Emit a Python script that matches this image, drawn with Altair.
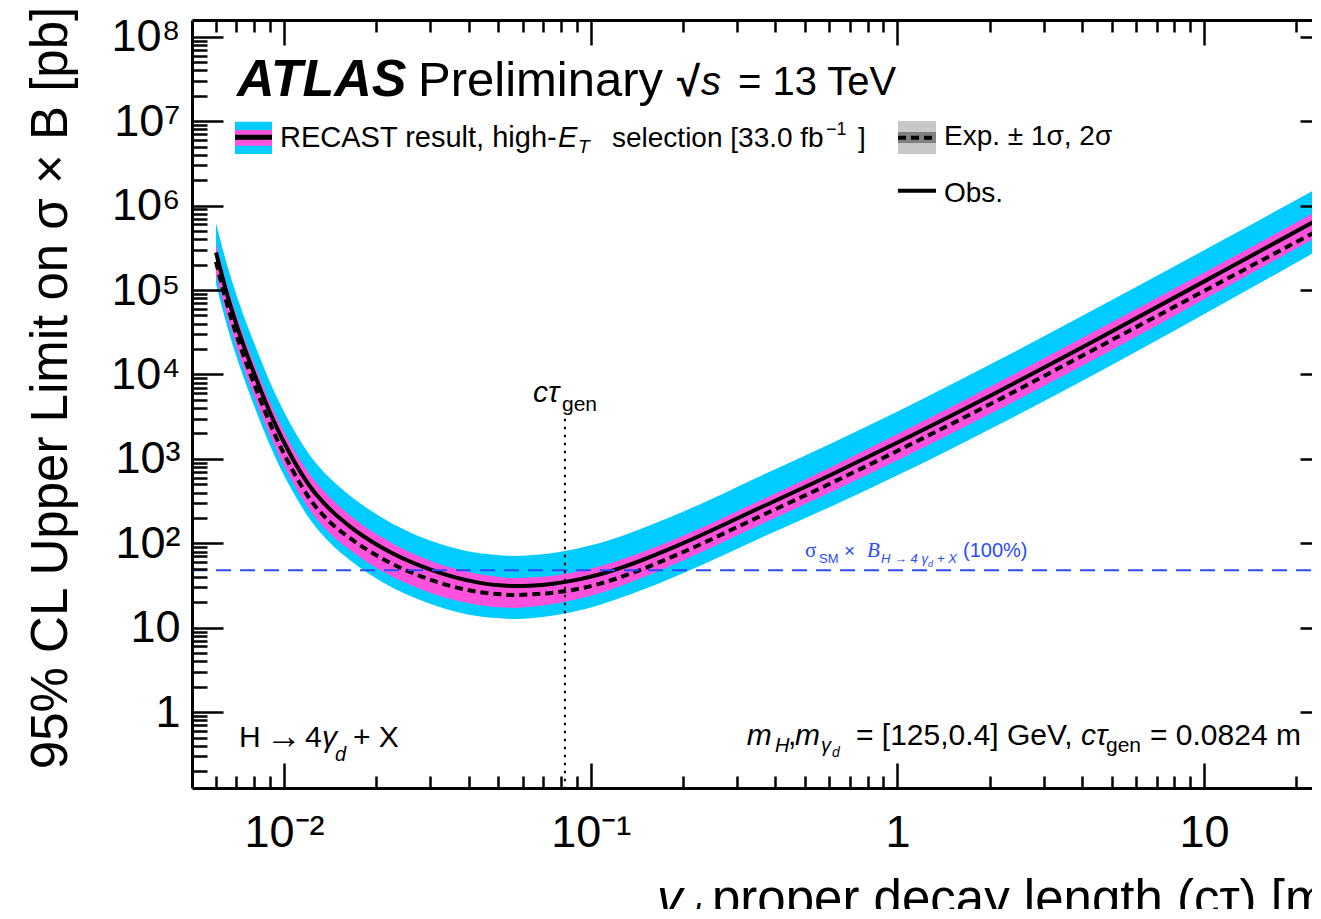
import altair as alt
import pandas as pd

# ---------------- data ----------------
ctau = [0.00600, 0.00647, 0.00719, 0.00804, 0.00921, 0.01062, 0.01216, 0.01413,
        0.01642, 0.02056, 0.02992, 0.04355, 0.05177, 0.0566, 0.0634, 0.0765,
        0.0923, 0.1072, 0.1343, 0.1955, 0.3565, 0.603, 1.02, 2.16, 4.58, 11.27, 23.3]
obs = [2.79e5, 9.89e4, 2.90e4, 9.73e3, 2.93e3, 1.04e3, 471, 252,
       158, 91.8, 49.0, 34.0, 31.6, 31.2, 31.5, 33.5,
       37.7, 43.0, 56.1, 96.8, 264, 641, 1.62e3, 6.43e3, 2.72e4, 1.60e5, 6.73e5]
exp_med = [2.16e5, 7.59e4, 2.20e4, 7.30e3, 2.17e3, 753, 333, 178,
           115, 68.1, 37.2, 26.4, 24.8, 24.4, 24.8, 26.2,
           29.2, 33.3, 43.6, 76.0, 209, 509, 1.29e3, 5.11e3, 2.16e4, 1.23e5, 4.99e5]
band1_hi = [3.59e5, 1.27e5, 3.78e4, 1.28e4, 3.91e3, 1.40e3, 650, 348,
            214, 121, 62.4, 42.9, 39.4, 38.8, 39.3, 41.7,
            46.9, 53.5, 69.8, 119, 321, 789, 2.04e3, 8.28e3, 3.54e4, 2.04e5, 8.61e5]
band1_lo = [1.57e5, 5.50e4, 1.59e4, 5.28e3, 1.57e3, 552, 247, 131,
            83.2, 48.2, 26.0, 18.5, 17.4, 17.2, 17.7, 19.3,
            22.2, 25.8, 34.4, 60.5, 166, 400, 995, 3.92e3, 1.64e4, 9.86e4, 4.25e5]
band2_hi = [6.24e5, 2.21e5, 6.56e4, 2.23e4, 6.71e3, 2.41e3, 1.10e3, 590,
            367, 208, 108, 76.2, 71.8, 71.0, 72.3, 77.6,
            88.3, 101, 133, 229, 624, 1.50e3, 3.76e3, 1.51e4, 6.43e4, 3.75e5, 1.585e6]
band2_lo = [1.19e5, 4.17e4, 1.21e4, 4.01e3, 1.19e3, 424, 192, 101,
            63.1, 36.1, 19.3, 13.6, 12.9, 12.7, 13.0, 14.1,
            16.1, 18.7, 24.7, 42.7, 115, 270, 661, 2.59e3, 1.09e4, 6.59e4, 2.89e5]

sm_xsec = 48.1          # sigma_SM x B (100%)
ctau_gen = 0.0824
ctau_gen_top = 3000.0

x_major = [0.01, 0.1, 1, 10]
x_minor = [m * 10.0 ** k for k in range(-3, 2) for m in range(2, 10)]
y_major = [1, 10, 1e2, 1e3, 1e4, 1e5, 1e6, 1e7, 1e8]
y_minor = [m * 10.0 ** k for k in range(-1, 8) for m in range(2, 10)]

XDOM = [0.005012, 22.48]
YDOM = [0.1265, 1.58e8]

df = pd.DataFrame({"ctau": ctau, "obs": obs, "exp": exp_med,
                   "b1lo": band1_lo, "b1hi": band1_hi,
                   "b2lo": band2_lo, "b2hi": band2_hi})

F = "Liberation Sans"
FS = "Liberation Serif"
W, H = 1120, 768
CYAN = "#00CCFF"
MAG = "#FF52DC"
BLUE = "#2A4BFF"

x_major = [v for v in x_major if XDOM[0] <= v <= XDOM[1]]
x_minor = [v for v in x_minor if XDOM[0] <= v <= XDOM[1]]
y_minor = [v for v in y_minor if YDOM[0] <= v <= YDOM[1]]

xs = alt.Scale(type="log", domain=XDOM, nice=False)
ys = alt.Scale(type="log", domain=YDOM, nice=False)


def tick_axis(orient, values, size, offset):
    return alt.Axis(orient=orient, values=values, tickSize=size, offset=offset,
                    labels=False, domain=False, grid=False, title=None,
                    ticks=True, tickColor="black", tickWidth=2.5, zindex=2)


y_label_axis = alt.Axis(
    orient="left", values=y_major, ticks=False, domain=True, domainColor="black",
    domainWidth=3, labelFont=F, labelFontSize=45, labelColor="black",
    labelPadding=12, labelBaseline="middle", labelOverlap=False, labelFlush=False,
    labelExpr=("datum.value < 5 ? '1' : datum.value < 50 ? '10' : datum.value < 500 ? '10²' : "
               "datum.value < 5e3 ? '10³' : datum.value < 5e4 ? '10⁴' : datum.value < 5e5 ? '10⁵' : "
               "datum.value < 5e6 ? '10⁶' : datum.value < 5e7 ? '10⁷' : '10⁸'"),
    title=None, grid=False, zindex=2)

x_label_axis = alt.Axis(
    orient="bottom", values=x_major, ticks=False, domain=True, domainColor="black",
    domainWidth=3, labelFont=F, labelFontSize=45, labelColor="black",
    labelPadding=22, labelOverlap=False, labelFlush=False,
    labelExpr=("datum.value < 0.05 ? '10⁻²' : datum.value < 0.5 ? '10⁻¹' : "
               "datum.value < 5 ? '1' : '10'"),
    title=None, grid=False, zindex=2)

x_top_domain = alt.Axis(orient="top", values=x_major, ticks=False, labels=False,
                        domain=True, domainColor="black", domainWidth=3,
                        title=None, grid=False, zindex=2)

base = alt.Chart(df)

cyan = base.mark_area(color=CYAN, interpolate="monotone", clip=True).encode(
    x=alt.X("ctau:Q", scale=xs, axis=x_label_axis),
    y=alt.Y("b2lo:Q", scale=ys, axis=y_label_axis),
    y2="b2hi:Q")

mag = base.mark_area(color=MAG, interpolate="monotone", clip=True).encode(
    x=alt.X("ctau:Q", scale=xs, axis=tick_axis("bottom", x_major, 25, -25)),
    y=alt.Y("b1lo:Q", scale=ys, axis=tick_axis("left", y_major, 31, -31)),
    y2="b1hi:Q")

exp_line = base.mark_line(color="black", strokeWidth=4, strokeDash=[8, 5],
                          interpolate="monotone", clip=True).encode(
    x=alt.X("ctau:Q", scale=xs, axis=tick_axis("bottom", x_minor, 12, -12)),
    y=alt.Y("exp:Q", scale=ys, axis=tick_axis("left", y_minor, 15, -15)))

obs_line = base.mark_line(color="black", strokeWidth=4,
                          interpolate="monotone", clip=True).encode(
    x=alt.X("ctau:Q", scale=xs, axis=tick_axis("top", x_major, 25, -25)),
    y=alt.Y("obs:Q", scale=ys, axis=tick_axis("right", y_major, 31, -12)))

one = alt.Data(values=[{"a": 1}])

gen_rule = alt.Chart(one).mark_rule(color="black", strokeWidth=2,
                                    strokeDash=[2.5, 5.5]).encode(
    x=alt.XDatum(ctau_gen, scale=xs, axis=tick_axis("top", x_minor, 12, -12)),
    y=alt.YDatum(ctau_gen_top, scale=ys, axis=tick_axis("right", y_minor, 15, 4)),
    y2=alt.Y2Datum(YDOM[0]))

sm_rule = alt.Chart(one).mark_rule(color=BLUE, strokeWidth=2,
                                   strokeDash=[15, 9]).encode(
    x=alt.XDatum(XDOM[0], scale=xs, axis=x_top_domain),
    x2=alt.X2Datum(XDOM[1]),
    y=alt.YDatum(sm_xsec, scale=ys, axis=None))


def txt(s, x, y, size, color="black", style="normal", weight="normal",
        font=F, align="left", baseline="alphabetic", angle=0):
    return alt.Chart(one).mark_text(
        text=s, font=font, fontSize=size, color=color, fontStyle=style,
        fontWeight=weight, align=align, baseline=baseline, angle=angle
    ).encode(x=alt.value(x), y=alt.value(y))


def rect(x0, x1, y0, y1, color):
    return alt.Chart(one).mark_rect(color=color).encode(
        x=alt.value(x0), x2=alt.value(x1), y=alt.value(y0), y2=alt.value(y1))


def hline(x0, x1, y, width, dash=None):
    kw = dict(color="black", strokeWidth=width)
    if dash:
        kw["strokeDash"] = dash
    return alt.Chart(one).mark_rule(**kw).encode(
        x=alt.value(x0), x2=alt.value(x1), y=alt.value(y))


texts = [
    txt("ATLAS", 45, 76, 52, style="italic", weight="bold"),
    txt("Preliminary", 226, 76, 49),
    txt("√", 485, 76, 42, weight="bold"),
    txt("s", 509, 75, 40, style="italic"),
    txt("= 13 TeV", 546, 75, 40),
    # legend
    rect(43, 80, 101.7, 134, CYAN),
    rect(43, 80, 110, 125.7, MAG),
    hline(43, 80, 117.3, 5),
    txt("RECAST result, high-", 88, 127, 29),
    txt("E", 366, 127, 29, style="italic"),
    txt("T", 386, 133, 19, style="italic"),
    txt("selection [33.0 fb", 420, 127, 28),
    txt("−1", 634, 115, 18),
    txt("]", 666, 127, 28),
    rect(706, 744, 101, 134, "#C8C8C8"),
    rect(706, 744, 112, 123, "#808080"),
    hline(706, 744, 117.7, 4, [8, 5]),
    txt("Exp. ± 1σ, 2σ", 752, 125, 28),
    hline(706, 744, 170.7, 4),
    txt("Obs.", 752, 181.7, 28),
    # c tau gen label
    txt("cτ", 341, 382, 30, style="italic"),
    txt("gen", 370, 391, 21),
    # blue label
    txt("σ", 613, 537, 21, color=BLUE, font=FS),
    txt("SM", 627, 543, 13, color=BLUE),
    txt("×", 652, 537, 19, color=BLUE),
    txt("B", 675, 537, 21, color=BLUE, font=FS, style="italic"),
    txt("H → 4 γ", 689, 543, 13, color=BLUE, style="italic"),
    txt("d", 736, 547, 9, color=BLUE, style="italic"),
    txt("+ X", 745, 543, 13, color=BLUE, style="italic"),
    txt("(100%)", 771, 537, 20, color=BLUE),
    # bottom-left
    txt("H", 47, 726.7, 30),
    txt("→", 74, 728, 36),
    txt("4", 113, 726.7, 30),
    txt("γ", 130, 726.7, 30, style="italic"),
    txt("d", 143, 741, 20, style="italic"),
    txt("+ X", 161, 726.7, 30),
    # bottom-right
    txt("m", 554.7, 725, 30, style="italic"),
    txt("H", 583, 732, 20, style="italic"),
    txt(",", 596, 725, 30),
    txt("m", 603, 725, 30, style="italic"),
    txt("γ", 629, 732, 20, style="italic"),
    txt("d", 640, 737, 14, style="italic"),
    txt("= [125,0.4] GeV,", 664, 725, 30),
    txt("cτ", 889, 725, 30, style="italic"),
    txt("gen", 914, 732, 21),
    txt("= 0.0824 m", 958, 725, 30),
    # axis titles
    txt("γ", 465, 896, 51, style="italic"),
    txt("d", 489, 907, 34, style="italic"),
    txt("proper decay length (cτ) [m]", 520, 896, 51),
    txt("95% CL Upper Limit on σ × B [pb]", -140, 368, 51,
        align="center", baseline="middle", angle=270),
]

chart = alt.layer(cyan, mag, obs_line, exp_line, sm_rule, gen_rule, *texts).resolve_axis(
    x="independent", y="independent"
).properties(
    width=W, height=H,
    padding={"left": 184, "top": 12, "right": 0, "bottom": 121},
    autosize=alt.AutoSizeParams(type="none"),
    background="white",
).configure_view(stroke=None)

chart.save("out.html", embed_options={"renderer": "svg", "actions": False})
